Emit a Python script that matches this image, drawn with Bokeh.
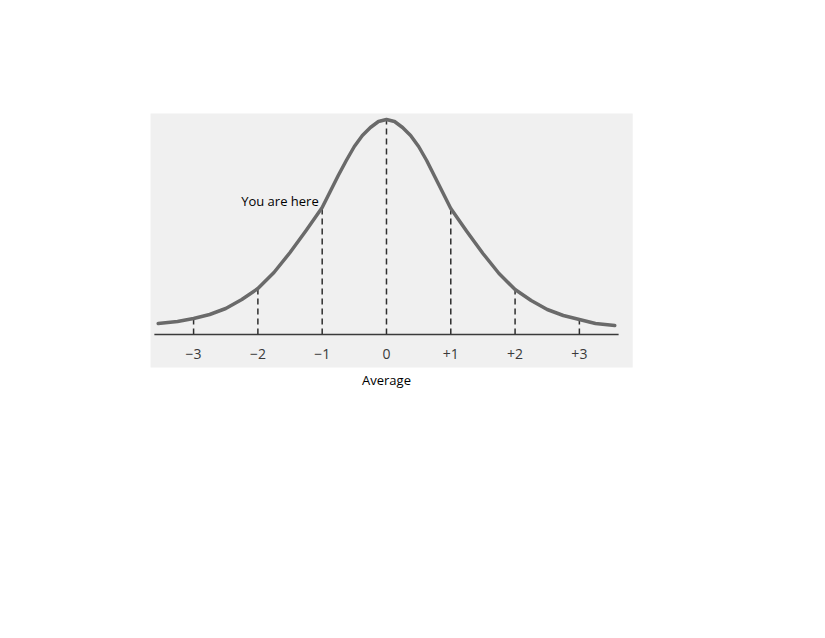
from bokeh.plotting import figure
from bokeh.models import Range1d
from bokeh.core.properties import value
from bokeh.embed import file_html
from bokeh.resources import INLINE

# Curve (x in standard deviations, height in relative units)
curve_x = [-3.55, -3.25, -3.0, -2.75, -2.5, -2.25, -2.0, -1.75, -1.5, -1.25, -1.0,
           -0.875, -0.75, -0.625, -0.5, -0.375, -0.25, -0.125, 0.0,
           0.125, 0.25, 0.375, 0.5, 0.625, 0.75, 0.875, 1.0, 1.25, 1.5, 1.75,
           2.0, 2.25, 2.5, 2.75, 3.0, 3.25, 3.55]
curve_y = [11, 13, 16, 20, 26, 35, 46, 62, 82, 104, 127,
           143, 159, 174, 188, 199, 207, 213, 215,
           213, 207, 199, 188, 174, 158, 142, 126, 103, 81, 61,
           45, 34, 25, 19, 15, 11, 9]

tick_x = [-3, -2, -1, 0, 1, 2, 3]
tick_heights = [16, 46, 126, 215, 126, 46, 15]
tick_labels = ["\u22123", "\u22122", "\u22121", "0", "+1", "+2", "+3"]

axis_start, axis_end = -3.61, 3.61
marker_label = "You are here"
marker_pos = (-2.26, 134)
avg_label = "Average"

p = figure(width=800, height=600, output_backend="svg", toolbar_location=None,
           x_axis_type=None, y_axis_type=None, min_border=0,
           x_range=Range1d(-6.003, 6.439), y_range=Range1d(-266, 334))
p.outline_line_color = None
p.grid.visible = False
p.background_fill_color = "white"
p.border_fill_color = "white"

# scanned-page background
p.quad(left=[-3.67], right=[3.83], bottom=[-33], top=[221],
       fill_color="#f0f0f0", line_color=None)

# dashed verticals
p.segment(x0=tick_x, y0=[0] * len(tick_x), x1=tick_x, y1=tick_heights,
          line_color="#2e2e2e", line_width=1.5, line_dash="6 4")

# baseline axis
p.segment(x0=[axis_start], y0=[0], x1=[axis_end], y1=[0],
          line_color="#3a3a3a", line_width=1.5)

# bell curve
p.line(curve_x, curve_y, line_color="#6a6a6a", line_width=3.5,
       line_join="round", line_cap="round")

# tick labels
p.text(x=tick_x, y=[-19] * len(tick_x), text=tick_labels,
       text_font=value("Open Sans"), text_font_size="14px",
       text_color="#3a3a3a", text_align="center", text_baseline="alphabetic")

p.text(x=[marker_pos[0]], y=[marker_pos[1]], text=[marker_label],
       text_font=value("Open Sans"), text_font_size="13px",
       text_color="#000000", text_align="left", text_baseline="alphabetic")

p.text(x=[0], y=[-45], text=[avg_label],
       text_font=value("Open Sans"), text_font_size="13px",
       text_color="#000000", text_align="center", text_baseline="alphabetic")

open("out.html", "w").write(file_html(p, INLINE))
